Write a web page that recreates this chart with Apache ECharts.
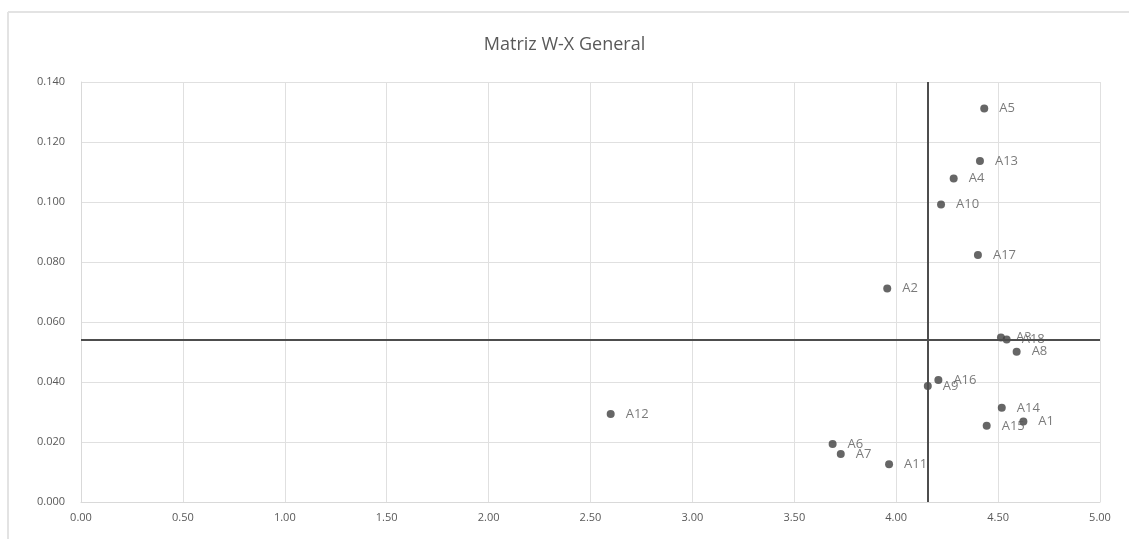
<!DOCTYPE html>
<html>
<head>
<meta charset="utf-8">
<script src="https://cdn.jsdelivr.net/npm/echarts@6/dist/echarts.min.js"></script>
<style>
  html, body { margin: 0; padding: 0; background: #ffffff; }
  #chart { width: 1129px; height: 539px; }
</style>
</head>
<body>
<div id="chart"></div>
<script>
// Alternatives A1..A18: X score and W weight
const labels = ['A5', 'A13', 'A4', 'A10', 'A17', 'A2', 'A3', 'A18', 'A8', 'A16', 'A9',
                'A14', 'A15', 'A1', 'A12', 'A6', 'A7', 'A11'];
const xValues = [4.432, 4.411, 4.282, 4.220, 4.401, 3.956, 4.514, 4.542, 4.591, 4.207, 4.155,
                 4.518, 4.444, 4.624, 2.599, 3.688, 3.728, 3.965];
const wValues = [0.1312, 0.1137, 0.1078, 0.0992, 0.0823, 0.0712, 0.0548, 0.0542, 0.0501, 0.0407, 0.0387,
                 0.0314, 0.0254, 0.0268, 0.0293, 0.0193, 0.0160, 0.0126];

// Dividing lines of the matrix
const xDivider = 4.155;
const wDivider = 0.0542;

const xTicks = [0, 5, 0.5];
const yTicks = [0, 0.14, 0.02];

const points = labels.map((name, i) => [xValues[i], wValues[i], name]);

const chart = echarts.init(document.getElementById('chart'));
chart.setOption({
  backgroundColor: '#ffffff',
  animation: false,
  title: {
    text: 'Matriz W-X General',
    left: 'center',
    top: 31,
    textStyle: { fontFamily: 'Open Sans', fontSize: 18, fontWeight: 'normal', color: '#595959' }
  },
  graphic: [
    { type: 'line', shape: { x1: 8, y1: 12, x2: 1129, y2: 12 }, style: { stroke: '#e3e3e3', lineWidth: 2 } },
    { type: 'line', shape: { x1: 8, y1: 12, x2: 8, y2: 539 }, style: { stroke: '#e3e3e3', lineWidth: 2 } }
  ],
  grid: { left: 81, right: 29, top: 82, bottom: 37 },
  xAxis: {
    type: 'value',
    min: xTicks[0], max: xTicks[1], interval: xTicks[2],
    axisLine: { show: true, lineStyle: { color: '#d9d9d9' } },
    axisTick: { show: false },
    splitLine: { show: true, lineStyle: { color: '#e0e0e0' } },
    axisLabel: {
      margin: 10,
      color: '#595959', fontFamily: 'Open Sans', fontSize: 11,
      formatter: v => v.toFixed(2)
    }
  },
  yAxis: {
    type: 'value',
    min: yTicks[0], max: yTicks[1], interval: yTicks[2],
    axisLine: { show: true, lineStyle: { color: '#d9d9d9' } },
    axisTick: { show: false },
    splitLine: { show: true, lineStyle: { color: '#e0e0e0' } },
    axisLabel: {
      margin: 16,
      color: '#595959', fontFamily: 'Open Sans', fontSize: 11,
      formatter: v => v.toFixed(3)
    }
  },
  series: [{
    type: 'scatter',
    data: points,
    symbol: 'circle',
    symbolSize: 8,
    itemStyle: { color: '#404040' },
    label: {
      show: true,
      position: 'right',
      distance: 11,
      color: '#595959',
      fontFamily: 'Open Sans',
      fontSize: 13,
      formatter: p => p.data[2]
    },
    markLine: {
      silent: true,
      symbol: 'none',
      precision: 4,
      label: { show: false },
      lineStyle: { color: '#4d4d4d', width: 2, type: 'solid' },
      data: [{ xAxis: xDivider }, { yAxis: wDivider }]
    },
    z: 3
  }]
});
</script>
</body>
</html>
